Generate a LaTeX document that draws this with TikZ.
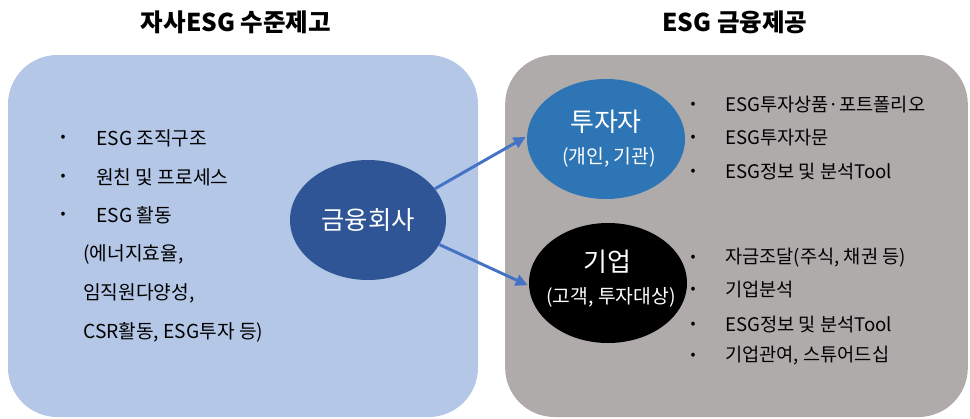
\documentclass[tikz,border=0pt]{standalone}
\usepackage{fontspec}
\setmainfont{Noto Sans CJK KR}
\usetikzlibrary{arrows.meta,shapes.geometric}
\definecolor{lightblue}{HTML}{B4C7E7}
\definecolor{boxgray}{HTML}{AFABAB}
\definecolor{finblue}{HTML}{2F5597}
\definecolor{invblue}{HTML}{2E75B6}
\definecolor{arrblue}{HTML}{4472C4}
\tikzset{
  panel/.style={rectangle, rounded corners=37pt, inner sep=0pt, draw=none},
  oval/.style={ellipse, inner sep=0pt, text=white, align=center},
  title/.style={font=\fontsize{18.4}{21}\selectfont\bfseries, anchor=center},
  ltext/.style={font=\fontsize{14.4}{17}\selectfont, anchor=west, inner sep=0pt},
  rtext/.style={font=\fontsize{14}{16}\selectfont, anchor=west, inner sep=0pt},
  bul/.style={font=\fontsize{11}{13}\selectfont, anchor=center, inner sep=0pt},
  arr/.style={draw=arrblue, line width=2.2pt, -{Triangle[length=9pt,width=8.5pt]}, shorten >=1pt}
}
\begin{document}
\begin{tikzpicture}[x=0.75pt,y=-0.75pt]
\useasboundingbox (0,0) rectangle (970,418);
% panels
\node[panel, fill=lightblue, minimum width=352.5pt, minimum height=271.5pt] (lbox) at (243,236) {};
\node[panel, fill=boxgray, minimum width=347pt, minimum height=271.5pt] (rbox) at (736.5,236) {};
% titles
\node[title] (t1) at (236,22) {자사ESG 수준제고};
\node[title] (t2) at (735,22) {ESG 금융제공};
% left list
\node[bul] (lb1) at (63,138) {•};
\node[bul] (lb2) at (63,177) {•};
\node[bul] (lb3) at (63,215) {•};
\node[ltext] (l1) at (96,138) {ESG 조직구조};
\node[ltext] (l2) at (96,177) {원친 및 프로세스};
\node[ltext] (l3) at (96,215) {ESG 활동};
\node[ltext] (l4) at (83,254) {(에너지효율,};
\node[ltext] (l5) at (83,293) {임직원다양성,};
\node[ltext] (l6) at (83,332) {CSR활동, ESG투자 등)};
% ellipses
\node[oval, fill=finblue, minimum width=117pt, minimum height=90pt, font=\fontsize{19}{21}\selectfont] (fin) at (368,220) {금융회사};
\node[oval, fill=invblue, minimum width=118.5pt, minimum height=90pt] (inv) at (606,139) {};
\node[text=white, font=\fontsize{19.5}{22}\selectfont, inner sep=0pt] (invt) at (606,122) {투자자};
\node[text=white, font=\fontsize{14.5}{17}\selectfont, inner sep=0pt] (invs) at (609,157) {(개인, 기관)};
\node[oval, fill=black, minimum width=118.5pt, minimum height=90pt] (biz) at (608,283) {};
\node[text=white, font=\fontsize{19.5}{22}\selectfont, inner sep=0pt] (bizt) at (607,262) {기업};
\node[text=white, font=\fontsize{14.5}{17}\selectfont, inner sep=0pt] (bizs) at (611,297) {(고객, 투자대상)};
% arrows
\draw[arr] (fin.25) -- (inv.178);
\draw[arr] (fin.-19) -- (biz.182);
% right lists
\node[bul] (rb1) at (693,105) {•};
\node[bul] (rb2) at (693,138) {•};
\node[bul] (rb3) at (693,172) {•};
\node[rtext] (r1) at (725,105) {ESG투자상품·포트폴리오};
\node[rtext] (r2) at (725,138) {ESG투자자문};
\node[rtext] (r3) at (725,172) {ESG정보 및 분석Tool};
\node[bul] (rb4) at (693,258) {•};
\node[bul] (rb5) at (693,290) {•};
\node[bul] (rb6) at (693,325) {•};
\node[bul] (rb7) at (693,356) {•};
\node[rtext] (r4) at (725,258) {자금조달(주식, 채권 등)};
\node[rtext] (r5) at (725,290) {기업분석};
\node[rtext] (r6) at (725,325) {ESG정보 및 분석Tool};
\node[rtext] (r7) at (725,356) {기업관여, 스튜어드십};
\end{tikzpicture}
\end{document}
